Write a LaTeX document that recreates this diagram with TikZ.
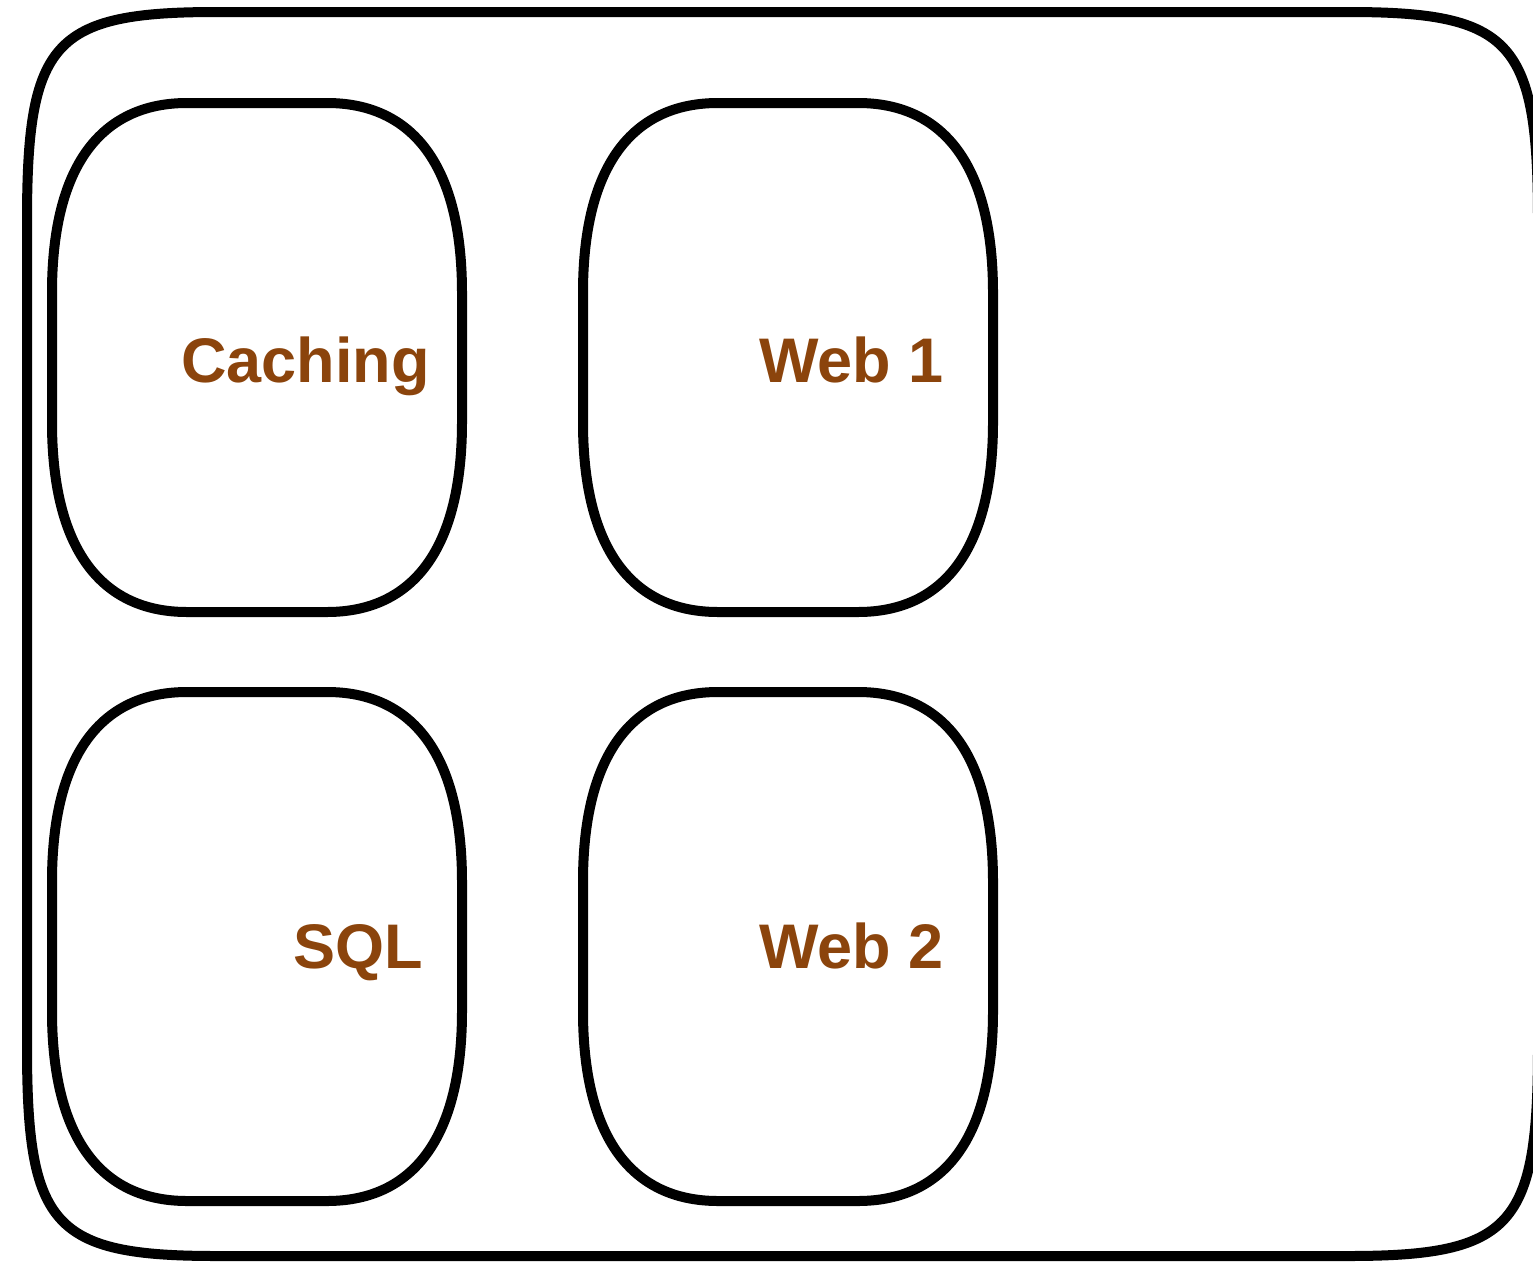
\documentclass[tikz,border=0pt]{standalone}
\usepackage{fontspec}
\setmainfont{Liberation Sans}
\definecolor{labelbrown}{RGB}{139,68,12}
% squircle-like rounded box: x0,y0,x1,y1, extent x, extent y, control x, control y
\newcommand\sqrbox[8]{%
  \draw[boxline] ({#1+#5},#2) -- ({#3-#5},#2)
    .. controls ({#3-#7},#2) and (#3,{#2+#8}) .. (#3,{#2+#6})
    -- (#3,{#4-#6})
    .. controls (#3,{#4-#8}) and ({#3-#7},#4) .. ({#3-#5},#4)
    -- ({#1+#5},#4)
    .. controls ({#1+#7},#4) and (#1,{#4-#8}) .. (#1,{#4-#6})
    -- (#1,{#2+#6})
    .. controls (#1,{#2+#8}) and ({#1+#7},#2) .. ({#1+#5},#2) -- cycle;}
\begin{document}
\begin{tikzpicture}[x=1pt,y=-1pt,
  boxline/.style={line width=10pt,black,line join=round},
  lbl/.style={inner sep=0pt,anchor=base west,text=labelbrown,
    font=\fontsize{63}{76}\selectfont\bfseries}]
\useasboundingbox (0,0) rectangle (1533,1261);
\clip (0,0) rectangle (1533,1261);
% outer container
\sqrbox{27}{12}{1538}{1256}{190}{210}{25}{30}
% inner boxes
\sqrbox{52}{103}{462}{612}{135}{190}{55}{55}
\sqrbox{583}{103}{993}{612}{135}{190}{55}{55}
\sqrbox{52}{692}{462}{1201}{135}{190}{55}{55}
\sqrbox{583}{692}{993}{1201}{135}{190}{55}{55}
% labels
\node[lbl] (caching) at (181,382) {Caching};
\node[lbl] (web1) at (759,382) {Web 1};
\node[lbl] (sql) at (293,968) {SQL};
\node[lbl] (web2) at (759,968) {Web 2};
\end{tikzpicture}
\end{document}
